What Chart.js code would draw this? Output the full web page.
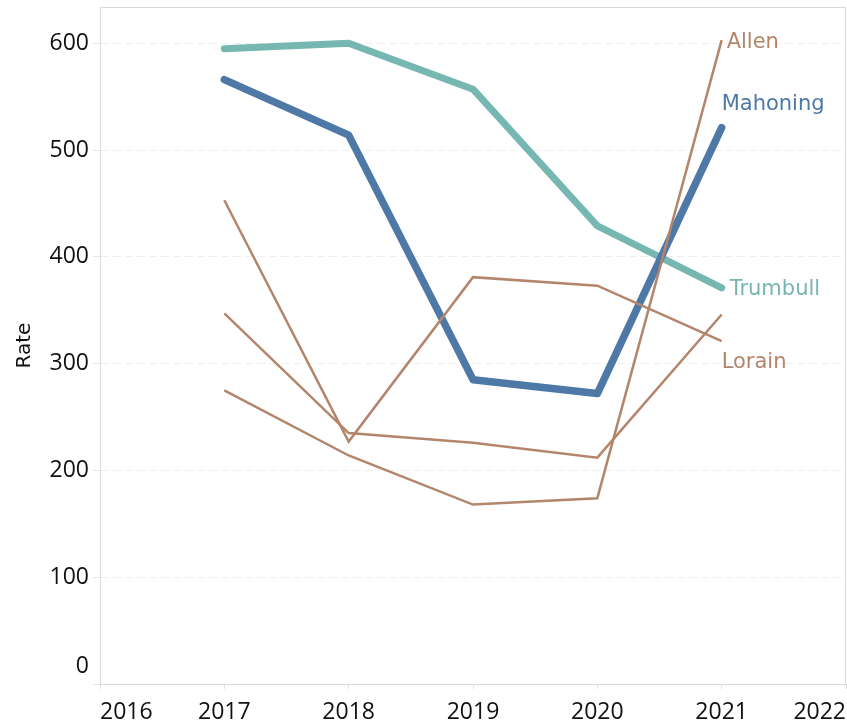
<!DOCTYPE html>
<html>
<head>
<meta charset="utf-8">
<script src="https://cdn.jsdelivr.net/npm/chart.js@4/dist/chart.umd.min.js"></script>
<style>
  html, body { margin: 0; padding: 0; background: #fff; }
  #wrap { width: 847px; height: 725px; }
</style>
</head>
<body>
<div id="wrap"><canvas id="rateChart" width="847" height="725"></canvas></div>
<script>
// data
const years = [2017, 2018, 2019, 2020, 2021];
const yearTicks = [2016, 2017, 2018, 2019, 2020, 2021, 2022];
const rateTicks = [0, 100, 200, 300, 400, 500, 600];

const allen = [275, 214, 168, 174, 603];
const lorain = [453, 227, 381, 373, 321];
const otherCounty = [347, 235, 226, 212, 346];
const mahoning = [566, 514, 285, 272, 521];
const trumbull = [595, 600, 557, 429, 371];

const BROWN = '#b3866c';
const BLUE = '#4e79a7';
const TEAL = '#76b7b2';

function toPoints(values) {
    return values.map((v, i) => ({ x: years[i], y: v }));
}

// end-of-line labels, placed relative to the last point
const endLabels = {
    Allen:    { color: BROWN, dx: 5,  dy: 2 },
    Mahoning: { color: BLUE,  dx: 0,  dy: -23 },
    Trumbull: { color: TEAL,  dx: 8,  dy: 2 },
    Lorain:   { color: BROWN, dx: 0,  dy: 21 }
};

const endLabelPlugin = {
    id: 'endLabels',
    afterDatasetsDraw(chart) {
        const ctx = chart.ctx;
        ctx.save();
        ctx.font = '21px "DejaVu Sans"';
        ctx.textAlign = 'left';
        ctx.textBaseline = 'middle';
        chart.data.datasets.forEach((ds, i) => {
            const cfg = endLabels[ds.label];
            if (!cfg) return;
            const pts = chart.getDatasetMeta(i).data;
            const last = pts[pts.length - 1];
            ctx.fillStyle = cfg.color;
            ctx.fillText(ds.label, last.x + cfg.dx, last.y + cfg.dy);
        });
        ctx.restore();
    }
};

// light frame round the plot, and the "0" label sitting above the baseline
const framePlugin = {
    id: 'frame',
    beforeDraw(chart) {
        const items = chart.scales.y.getLabelItems();
        items.forEach(it => {
            if (it.label === '0') it.options.translation[1] -= 18;
        });
    },
    beforeDatasetsDraw(chart) {
        const a = chart.chartArea;
        const ctx = chart.ctx;
        ctx.save();
        ctx.strokeStyle = '#d9d9d9';
        ctx.lineWidth = 1;
        ctx.strokeRect(a.left + 0.5, a.top + 0.5, a.right - a.left - 1, a.bottom - a.top);
        ctx.restore();
    }
};

const ctx = document.getElementById('rateChart').getContext('2d');
new Chart(ctx, {
    type: 'line',
    data: {
        datasets: [
            { label: 'Allen', data: toPoints(allen), borderColor: BROWN, borderWidth: 2.5 },
            { label: 'Lorain', data: toPoints(lorain), borderColor: BROWN, borderWidth: 2.5 },
            { label: 'Other', data: toPoints(otherCounty), borderColor: BROWN, borderWidth: 2.5 },
            { label: 'Mahoning', data: toPoints(mahoning), borderColor: BLUE, borderWidth: 7.5,
              borderCapStyle: 'round', borderJoinStyle: 'round' },
            { label: 'Trumbull', data: toPoints(trumbull), borderColor: TEAL, borderWidth: 7,
              borderCapStyle: 'round', borderJoinStyle: 'round' }
        ]
    },
    options: {
        responsive: false,
        animation: false,
        layout: { padding: { top: 7, right: 1, left: 0, bottom: 0 } },
        elements: {
            point: { radius: 0, hoverRadius: 0 },
            line: { tension: 0, fill: false }
        },
        plugins: {
            legend: { display: false },
            tooltip: { enabled: false }
        },
        scales: {
            x: {
                type: 'linear',
                min: yearTicks[0],
                max: yearTicks[yearTicks.length - 1],
                afterBuildTicks: (scale) => {
                    scale.ticks = yearTicks.map(v => ({ value: v }));
                },
                afterFit: (scale) => {
                    scale.height = 41;
                    scale.paddingLeft = 0;
                    scale.paddingRight = 0;
                },
                ticks: {
                    align: 'inner',
                    padding: 10,
                    color: '#111',
                    font: { family: '"Open Sans"', size: 23 },
                    callback: (v) => String(v),
                    maxRotation: 0
                },
                grid: {
                    drawOnChartArea: false,
                    tickLength: 5,
                    tickColor: '#e2e2e2'
                },
                border: { color: '#d4d4d4', width: 1 }
            },
            y: {
                min: 0,
                max: 634,
                afterBuildTicks: (scale) => {
                    scale.ticks = rateTicks.map(v => ({ value: v }));
                },
                afterFit: (scale) => {
                    scale.width = 100;
                    scale.paddingTop = 0;
                    scale.paddingBottom = 0;
                },
                ticks: {
                    padding: 4,
                    color: '#111',
                    font: { family: '"Open Sans"', size: 23 }
                },
                grid: {
                    color: '#efefef',
                    tickLength: 7,
                    tickColor: '#e6e6e6'
                },
                border: { color: '#d4d4d4', width: 1, dash: [8, 4] },
                title: {
                    display: true,
                    text: 'Rate',
                    color: '#111',
                    font: { family: '"DejaVu Sans"', size: 20 },
                    padding: { top: 13, bottom: 0 }
                }
            }
        }
    },
    plugins: [endLabelPlugin, framePlugin]
});
</script>
</body>
</html>
